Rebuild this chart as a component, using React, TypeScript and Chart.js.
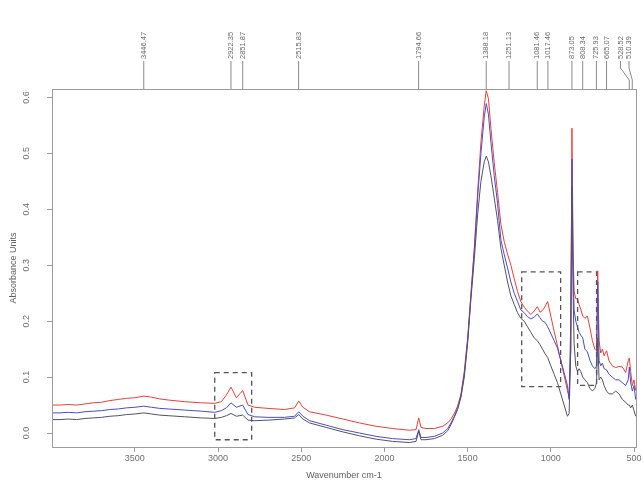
import React, { useEffect, useRef } from 'react';
import { Chart, registerables } from 'chart.js';
Chart.register(...registerables);

// Wavenumbers (cm-1)
const wavenumbers = [
  3998, 3950, 3900, 3850, 3800, 3750, 3700, 3650, 3600, 3550, 3500, 3446, 3400, 3350, 3300, 3200, 3100,
  3020, 2980, 2950, 2922, 2890, 2852, 2820, 2780, 2700, 2600, 2540, 2515, 2490, 2450, 2350, 2250, 2150,
  2050, 1950, 1850, 1810, 1794, 1780, 1750, 1700, 1650, 1620, 1600, 1580, 1560, 1540, 1520, 1500, 1480,
  1460, 1440, 1420, 1400, 1388, 1375, 1360, 1340, 1320, 1300, 1280, 1260, 1240, 1220, 1200, 1180, 1160,
  1140, 1120, 1100, 1081, 1065, 1050, 1035, 1019, 1000, 980, 960, 940, 920, 900, 890, 880, 873, 866, 860,
  850, 840, 830, 820, 808, 795, 780, 765, 750, 735, 725, 718, 710, 700, 690, 680, 665, 650, 630, 610, 590,
  570, 550, 535, 528, 520, 510, 500, 490,
];

// Absorbance, red sample
const sampleRed = [
  0.050, 0.050, 0.051, 0.050, 0.052, 0.054, 0.055, 0.058, 0.060, 0.062, 0.063, 0.066, 0.064, 0.061, 0.059, 0.056, 0.054,
  0.053, 0.056, 0.068, 0.082, 0.063, 0.076, 0.050, 0.046, 0.044, 0.042, 0.045, 0.057, 0.046, 0.038, 0.032, 0.025, 0.018,
  0.012, 0.008, 0.005, 0.006, 0.027, 0.010, 0.008, 0.008, 0.012, 0.018, 0.025, 0.035, 0.048, 0.070, 0.110, 0.170, 0.250,
  0.330, 0.430, 0.520, 0.585, 0.612, 0.598, 0.545, 0.483, 0.430, 0.373, 0.342, 0.320, 0.300, 0.276, 0.253, 0.235, 0.225,
  0.218, 0.212, 0.218, 0.226, 0.216, 0.219, 0.226, 0.235, 0.209, 0.182, 0.156, 0.129, 0.103, 0.076, 0.064, 0.150, 0.545, 0.324, 0.253,
  0.240, 0.240, 0.230, 0.221, 0.209, 0.205, 0.209, 0.188, 0.165, 0.150, 0.147, 0.290, 0.165, 0.143, 0.150, 0.138, 0.147, 0.129, 0.120, 0.117, 0.119,
  0.118, 0.108, 0.129, 0.134, 0.110, 0.085, 0.095, 0.076,
];

// Absorbance, blue sample
const sampleBlue = [
  0.036, 0.036, 0.037, 0.036, 0.038, 0.039, 0.040, 0.042, 0.043, 0.045, 0.046, 0.048, 0.046, 0.044, 0.043, 0.041, 0.039,
  0.037, 0.040, 0.045, 0.054, 0.046, 0.050, 0.033, 0.029, 0.028, 0.028, 0.030, 0.038, 0.030, 0.022, 0.014, 0.006, 0.000,
  -0.006, -0.010, -0.012, -0.010, 0.006, -0.008, -0.008, -0.006, 0.000, 0.008, 0.018, 0.030, 0.045, 0.066, 0.105, 0.165, 0.245,
  0.325, 0.420, 0.500, 0.565, 0.589, 0.570, 0.520, 0.460, 0.410, 0.345, 0.319, 0.295, 0.270, 0.250, 0.235, 0.220, 0.215,
  0.208, 0.204, 0.207, 0.213, 0.206, 0.200, 0.198, 0.190, 0.178, 0.165, 0.152, 0.130, 0.108, 0.085, 0.060, 0.200, 0.490, 0.300, 0.220,
  0.200, 0.190, 0.180, 0.175, 0.170, 0.150, 0.145, 0.130, 0.120, 0.115, 0.120, 0.270, 0.130, 0.120, 0.125, 0.115, 0.113, 0.105, 0.100, 0.095, 0.095,
  0.090, 0.085, 0.095, 0.118, 0.090, 0.075, 0.085, 0.060,
];

// Absorbance, dark sample
const sampleDark = [
  0.024, 0.024, 0.025, 0.024, 0.026, 0.027, 0.028, 0.030, 0.031, 0.033, 0.034, 0.036, 0.034, 0.032, 0.031, 0.029, 0.027,
  0.026, 0.028, 0.031, 0.035, 0.030, 0.032, 0.023, 0.022, 0.023, 0.025, 0.027, 0.033, 0.025, 0.018, 0.010, 0.002, -0.005,
  -0.011, -0.015, -0.017, -0.015, 0.003, -0.012, -0.012, -0.010, -0.004, 0.004, 0.015, 0.028, 0.042, 0.064, 0.100, 0.160, 0.240,
  0.310, 0.390, 0.450, 0.485, 0.495, 0.485, 0.460, 0.420, 0.380, 0.330, 0.300, 0.270, 0.245, 0.230, 0.215, 0.205, 0.200,
  0.190, 0.180, 0.170, 0.165, 0.158, 0.150, 0.142, 0.135, 0.120, 0.105, 0.090, 0.070, 0.050, 0.030, 0.035, 0.150, 0.440, 0.250, 0.160,
  0.120, 0.110, 0.115, 0.110, 0.100, 0.095, 0.090, 0.080, 0.075, 0.080, 0.090, 0.170, 0.095, 0.100, 0.095, 0.085, 0.075, 0.070, 0.070, 0.075, 0.070,
  0.060, 0.055, 0.050, 0.050, 0.045, 0.050, 0.040, 0.030,
];

// Peak annotations along the top
const peakWavenumbers = [3446.47, 2922.35, 2851.87, 2515.83, 1794.66, 1388.18, 1251.13, 1081.46, 1017.46, 873.05, 808.34, 725.93, 665.07, 528.52, 510.39];
const peakLabels = ['3446.47', '2922.35', '2851.87', '2515.83', '1794.66', '1388.18', '1251.13', '1081.46', '1017.46', '873.05', '808.34', '725.93', '665.07', '528.52', '510.39'];

// Highlighted regions (dashed rectangles)
const regionFrom = [3020, 1175, 839];
const regionTo = [2798, 941, 725];
const regionLow = [-0.012, 0.083, 0.085];
const regionHigh = [0.108, 0.288, 0.288];

const xTickValues = [3500, 3000, 2500, 2000, 1500, 1000, 500];
const yTickValues = [0, 0.1, 0.2, 0.3, 0.4, 0.5, 0.6];

const FONT = '"Liberation Sans", Arial, sans-serif';

const annotPlugin = {
  id: 'annot',
  afterDraw(chart: any) {
    const { ctx, chartArea: ca, scales } = chart;
    const xs = scales.x;
    const ys = scales.y;
    ctx.save();
    // frame
    ctx.strokeStyle = '#9c9c9c';
    ctx.lineWidth = 1;
    ctx.strokeRect(Math.round(ca.left) + 0.5, Math.round(ca.top) + 0.5, Math.round(ca.right - ca.left), Math.round(ca.bottom - ca.top));

    // dashed regions
    ctx.setLineDash([5, 4]);
    ctx.strokeStyle = '#555555';
    ctx.lineWidth = 1.3;
    for (let i = 0; i < regionFrom.length; i++) {
      const x0 = xs.getPixelForValue(regionFrom[i]);
      const x1 = xs.getPixelForValue(regionTo[i]);
      const y0 = ys.getPixelForValue(regionHigh[i]);
      const y1 = ys.getPixelForValue(regionLow[i]);
      ctx.strokeRect(x0, y0, x1 - x0, y1 - y0);
    }
    ctx.setLineDash([]);

    // y tick labels (rotated, R style)
    ctx.fillStyle = '#707070';
    ctx.font = `9px ${FONT}`;
    ctx.textAlign = 'center';
    ctx.textBaseline = 'middle';
    for (const v of yTickValues) {
      const py = ys.getPixelForValue(v);
      ctx.save();
      ctx.translate(27, py);
      ctx.rotate(-Math.PI / 2);
      ctx.fillText(v.toFixed(1), 0, 0);
      ctx.restore();
    }

    // peak labels
    const px = peakWavenumbers.map((w) => xs.getPixelForValue(w));
    const lx = px.slice();
    for (let i = px.length - 1; i >= 0; i--) {
      const limit = i === px.length - 1 ? ca.right - 7 : lx[i + 1] - 8.5;
      lx[i] = Math.min(px[i], limit);
    }
    ctx.strokeStyle = '#8a8a8a';
    ctx.lineWidth = 1;
    ctx.fillStyle = '#6a6a6a';
    ctx.font = `7.5px ${FONT}`;
    ctx.textAlign = 'left';
    ctx.textBaseline = 'middle';
    for (let i = 0; i < px.length; i++) {
      ctx.beginPath();
      ctx.moveTo(lx[i], 61);
      ctx.lineTo(lx[i], 68);
      ctx.lineTo(px[i], 80);
      ctx.lineTo(px[i], ca.top);
      ctx.stroke();
      ctx.save();
      ctx.translate(lx[i], 59);
      ctx.rotate(-Math.PI / 2);
      ctx.fillText(peakLabels[i], 0, 0);
      ctx.restore();
    }
    ctx.restore();
  },
};

export default function App() {
  const ref = useRef<HTMLCanvasElement | null>(null);
  useEffect(() => {
    if (!ref.current) return;
    const mk = (vals: number[]) => wavenumbers.map((w, i) => ({ x: w, y: vals[i] }));
    const chart = new Chart(ref.current, {
      type: 'line',
      data: {
        datasets: [
          { label: 'Dark', data: mk(sampleDark), borderColor: '#525268', borderWidth: 1, pointRadius: 0, tension: 0 },
          { label: 'Blue', data: mk(sampleBlue), borderColor: '#4b4bd0', borderWidth: 1, pointRadius: 0, tension: 0 },
          { label: 'Red', data: mk(sampleRed), borderColor: '#e8403c', borderWidth: 1, pointRadius: 0, tension: 0 },
        ],
      },
      options: {
        responsive: false,
        animation: false,
        layout: { padding: { top: 89, right: 7, left: 0, bottom: 0 } },
        plugins: { legend: { display: false }, tooltip: { enabled: false } },
        scales: {
          x: {
            type: 'linear',
            reverse: true,
            min: 488,
            max: 3998,
            afterFit: (s: any) => { s.height = 35; },
            afterBuildTicks: (s: any) => { s.ticks = xTickValues.map((v) => ({ value: v })); },
            ticks: {
              maxRotation: 0,
              autoSkip: false,
              padding: 1,
              color: '#707070',
              font: { family: FONT, size: 9 },
              callback: (v: any) => String(v),
            },
            grid: { drawOnChartArea: false, tickLength: 5, color: '#9c9c9c' },
            border: { display: false },
            title: { display: true, text: 'Wavenumber cm-1', color: '#606060', font: { family: FONT, size: 9 }, padding: { top: 0, bottom: 1 } },
          },
          y: {
            type: 'linear',
            min: -0.025,
            max: 0.615,
            afterFit: (s: any) => { s.width = 52; },
            afterBuildTicks: (s: any) => { s.ticks = yTickValues.map((v) => ({ value: v })); },
            ticks: { display: false },
            grid: { drawOnChartArea: false, tickLength: 5, color: '#9c9c9c' },
            border: { display: false },
            title: { display: true, text: 'Absorbance Units', color: '#606060', font: { family: FONT, size: 9 }, padding: { top: 8, bottom: 0 } },
          },
        },
      },
      plugins: [annotPlugin],
    });
    return () => chart.destroy();
  }, []);
  return (
    <div style={{ position: 'absolute', left: 0, top: 0, width: 643, height: 482, background: '#fff' }}>
      <canvas ref={ref} width={643} height={482} />
    </div>
  );
}
